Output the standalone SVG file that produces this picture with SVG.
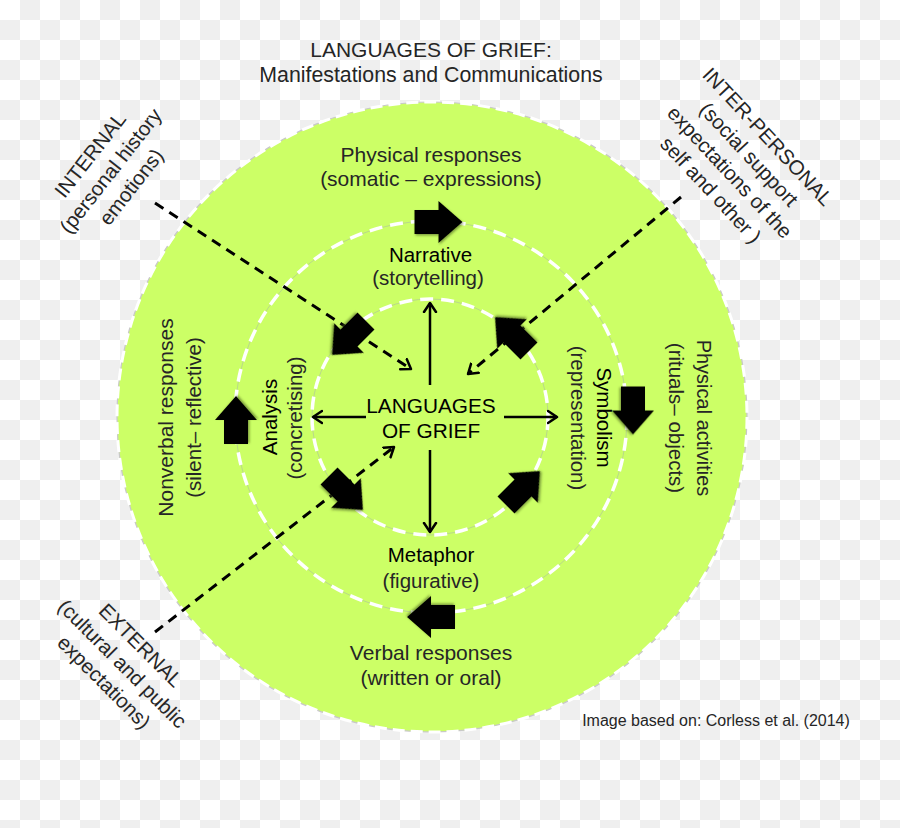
<svg xmlns="http://www.w3.org/2000/svg" width="900" height="828" viewBox="0 0 900 828">
<defs>
<pattern id="checker" width="40" height="40" patternUnits="userSpaceOnUse">
<rect width="40" height="40" fill="#ffffff"/>
<rect x="20" y="0" width="20" height="20" fill="#efefef"/>
<rect x="0" y="20" width="20" height="20" fill="#efefef"/>
</pattern>
<marker id="head" markerUnits="userSpaceOnUse" markerWidth="20" markerHeight="20" refX="10" refY="10" orient="auto" viewBox="0 0 20 20">
<path d="M1,4 L10,10 L1,16" fill="none" stroke="#000" stroke-width="2.5" stroke-linecap="round" stroke-linejoin="round"/>
</marker>
<path id="blk" d="M-24,-12 H0 V-21 L24,0 L0,21 V12 H-24 Z"/>
<filter id="sh" x="-30%" y="-30%" width="160%" height="160%">
<feDropShadow dx="1" dy="1.5" stdDeviation="1.2" flood-color="#4a5d1a" flood-opacity="0.6"/>
</filter>
<style>
text{font-family:"Liberation Sans",Arial,Helvetica,sans-serif;fill:#262626;font-size:20.5px;text-anchor:middle}
.em{fill:#000}
.ring{fill:none;stroke:#ffffff;stroke-width:3.5;stroke-dasharray:13 8}
.ringline{fill:none;stroke:#b9d98a;stroke-width:1}
.conn{fill:none;stroke:#000;stroke-width:3;stroke-dasharray:10 7}
.solid{fill:none;stroke:#000;stroke-width:2.5}
.barrow{fill:#000;filter:url(#sh)}
</style>
</defs>
<rect width="900" height="828" fill="url(#checker)"/>

<g id="outer-ring">
<circle cx="432" cy="417" r="315" fill="#ccff66" stroke="#c8c8c8" stroke-width="1.2"/>
<circle cx="432" cy="417" r="315" fill="none" stroke="#ffffff" stroke-width="3" stroke-dasharray="12 6"/>
</g>
<g id="middle-ring">
<circle class="ringline" cx="431" cy="417" r="196"/>
<circle class="ring" cx="431" cy="417" r="196"/>
</g>
<g id="inner-ring">
<circle class="ringline" cx="430" cy="417" r="118"/>
<circle class="ring" cx="430" cy="417" r="118"/>
</g>

<g id="connectors">
<line class="conn" x1="155" y1="203" x2="411" y2="369" marker-end="url(#head)"/>
<line class="conn" x1="681" y1="197" x2="468" y2="374" marker-end="url(#head)"/>
<line class="conn" x1="155" y1="632" x2="394" y2="447" marker-end="url(#head)"/>
<line class="solid" x1="430" y1="385" x2="430" y2="303" marker-end="url(#head)"/>
<line class="solid" x1="430" y1="450" x2="430" y2="532" marker-end="url(#head)"/>
<line class="solid" x1="366" y1="417" x2="313" y2="417" marker-end="url(#head)"/>
<line class="solid" x1="504" y1="417" x2="557" y2="417" marker-end="url(#head)"/>
</g>

<g id="flow-arrows">
<use href="#blk" class="barrow" transform="translate(438.5,222)"/>
<use href="#blk" class="barrow" transform="translate(633,410.5) rotate(90)"/>
<use href="#blk" class="barrow" transform="translate(431,617) rotate(180)"/>
<use href="#blk" class="barrow" transform="translate(236,420) rotate(-90)"/>
<use href="#blk" class="barrow" transform="translate(349,338) rotate(135)"/>
<use href="#blk" class="barrow" transform="translate(512,334) rotate(-135)"/>
<use href="#blk" class="barrow" transform="translate(346,493) rotate(45)"/>
<use href="#blk" class="barrow" transform="translate(523,488) rotate(-45)"/>
</g>

<g id="title">
<text x="431" y="57" style="font-size:21px">LANGUAGES OF GRIEF:</text>
<text x="431" y="82" style="font-size:21.3px">Manifestations and Communications</text>
</g>

<g id="node-center">
<text class="em" x="431" y="413" style="font-size:20.8px">LANGUAGES</text>
<text class="em" x="431" y="438" style="font-size:20.8px">OF GRIEF</text>
</g>

<g id="node-physical-responses">
<text x="431" y="162" style="font-size:21px">Physical responses</text>
<text x="431" y="186" style="font-size:21px">(somatic – expressions)</text>
</g>
<g id="node-narrative">
<text class="em" x="430.5" y="262">Narrative</text>
<text x="428" y="285">(storytelling)</text>
</g>
<g id="node-metaphor">
<text class="em" x="431" y="562">Metaphor</text>
<text x="431" y="588">(figurative)</text>
</g>
<g id="node-verbal-responses">
<text x="431" y="660" style="font-size:21px">Verbal responses</text>
<text x="431" y="685" style="font-size:21px">(written or oral)</text>
</g>
<g id="node-analysis">
<text class="em" transform="translate(276.5,417) rotate(-90)">Analysis</text>
<text transform="translate(302,418) rotate(-90)">(concretising)</text>
</g>
<g id="node-symbolism">
<text class="em" transform="translate(597,417.5) rotate(90)">Symbolism</text>
<text transform="translate(571,418) rotate(90)">(representation)</text>
</g>
<g id="node-nonverbal-responses">
<text transform="translate(173,417.5) rotate(-90)" style="font-size:21px">Nonverbal responses</text>
<text transform="translate(201,417.5) rotate(-90)">(silent– reflective)</text>
</g>
<g id="node-physical-activities">
<text transform="translate(697,418) rotate(90)" style="font-size:20px">Physical activities</text>
<text transform="translate(669,418) rotate(90)">(rituals– objects)</text>
</g>

<g id="node-internal" transform="translate(111.5,171.5) rotate(-52)">
<text x="0" y="-20">INTERNAL</text>
<text x="0" y="6">(personal history</text>
<text x="0" y="32">emotions)</text>
</g>
<g id="node-interpersonal" transform="translate(738.6,164) rotate(47)">
<text x="0" y="-33">INTER-PERSONAL</text>
<text x="0" y="-7">(social support</text>
<text x="0" y="19">expectations of the</text>
<text x="0" y="45">self and other )</text>
</g>
<g id="node-external" transform="translate(121.7,664.5) rotate(45)">
<text x="0" y="-20">EXTERNAL</text>
<text x="0" y="6">(cultural and public</text>
<text x="0" y="32">expectations)</text>
</g>

<g id="caption">
<text x="716" y="726" style="font-size:16px">Image based on: Corless et al. (2014)</text>
</g>
</svg>
